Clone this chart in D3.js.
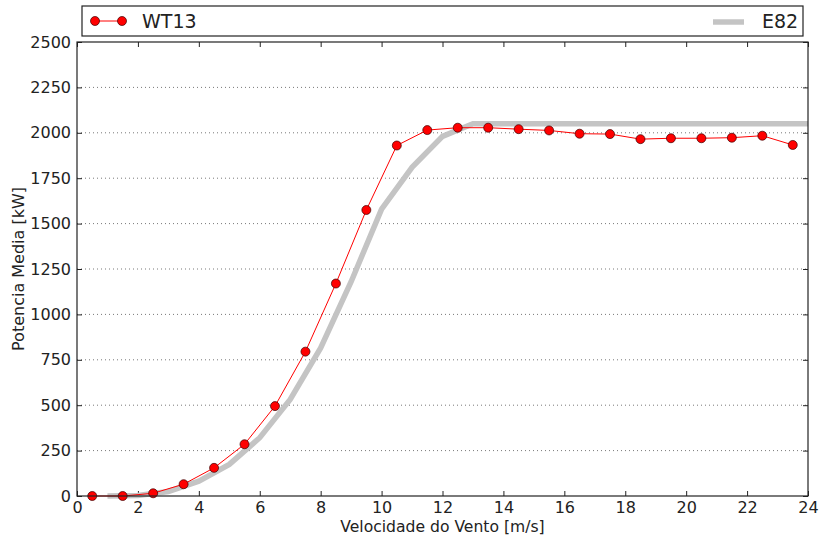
<!DOCTYPE html>
<html>
<head>
<meta charset="utf-8">
<script src="https://cdn.jsdelivr.net/npm/d3@7"></script>
<style>
  body { margin: 0; background: #fff; }
  text { font-family: "DejaVu Sans", sans-serif; fill: #222; }
</style>
</head>
<body>
<svg width="821" height="543"></svg>
<script>
// WT13 measured curve (bin centres)
var wtSpeed = [0.5, 1.5, 2.5, 3.5, 4.5, 5.5, 6.5, 7.5, 8.5, 9.5, 10.5, 11.5,
               12.5, 13.5, 14.5, 15.5, 16.5, 17.5, 18.5, 19.5, 20.5, 21.5, 22.5, 23.5];
var wtPower = [0, 0, 15, 65, 155, 285, 495, 795, 1170, 1575, 1930, 2015,
               2028, 2028, 2020, 2013, 1995, 1993, 1965, 1970, 1970, 1973, 1984, 1933];

// E82 reference curve
var e82Speed = [1, 2, 3, 4, 5, 6, 7, 8, 9, 10, 11, 12, 13, 14, 15, 16, 17, 18, 19, 20, 21, 22, 23, 24];
var e82Power = [0, 3, 25, 82, 174, 321, 532, 815, 1180, 1580, 1810, 1980, 2050,
                2050, 2050, 2050, 2050, 2050, 2050, 2050, 2050, 2050, 2050, 2050];

var xTicks = [0, 2, 4, 6, 8, 10, 12, 14, 16, 18, 20, 22, 24];
var yTicks = [0, 250, 500, 750, 1000, 1250, 1500, 1750, 2000, 2250, 2500];

var svg = d3.select("svg"),
    margin = {left: 77, right: 13, top: 42, bottom: 47},
    width = +svg.attr("width") - margin.left - margin.right,
    height = +svg.attr("height") - margin.top - margin.bottom;

var x = d3.scaleLinear().domain([0, 24]).range([0, width]);
var y = d3.scaleLinear().domain([0, 2500]).range([height, 0]);

var g = svg.append("g").attr("transform", "translate(" + margin.left + "," + margin.top + ")");

// dotted horizontal grid
g.append("g").selectAll("line")
  .data(yTicks.slice(1, -1))
  .enter().append("line")
    .attr("x1", 0).attr("x2", width)
    .attr("y1", function(d) { return y(d); })
    .attr("y2", function(d) { return y(d); })
    .attr("stroke", "#555").attr("stroke-width", 0.8)
    .attr("stroke-dasharray", "1,3");

// axes with inward ticks on all sides
function styleAxis(sel) {
  sel.select(".domain").remove();
  sel.selectAll(".tick line").attr("stroke", "#222");
  sel.selectAll(".tick text").style("font-size", "16px").attr("fill", "#222");
}
g.append("g").attr("transform", "translate(0," + height + ")")
  .call(d3.axisBottom(x).tickValues(xTicks).tickSizeInner(-5).tickPadding(6).tickFormat(d3.format("d")))
  .call(styleAxis);
g.append("g")
  .call(d3.axisLeft(y).tickValues(yTicks).tickSizeInner(-5).tickPadding(6).tickFormat(d3.format("d")))
  .call(styleAxis);
g.append("g")
  .call(d3.axisTop(x).tickValues(xTicks).tickSizeInner(-5).tickFormat(""))
  .call(styleAxis);
g.append("g").attr("transform", "translate(" + width + ",0)")
  .call(d3.axisRight(y).tickValues(yTicks).tickSizeInner(-5).tickFormat(""))
  .call(styleAxis);

var line = d3.line()
  .x(function(d) { return x(d[0]); })
  .y(function(d) { return y(d[1]); });

// E82 thick grey
g.append("path")
  .datum(d3.zip(e82Speed, e82Power))
  .attr("d", line)
  .attr("fill", "none")
  .attr("stroke", "#c4c4c4")
  .attr("stroke-width", 5.5);

// WT13 red with markers
var wt = d3.zip(wtSpeed, wtPower);
g.append("path")
  .datum(wt)
  .attr("d", line)
  .attr("fill", "none")
  .attr("stroke", "#ff0000")
  .attr("stroke-width", 1);

g.append("g").selectAll("circle")
  .data(wt)
  .enter().append("circle")
    .attr("cx", function(d) { return x(d[0]); })
    .attr("cy", function(d) { return y(d[1]); })
    .attr("r", 4.5)
    .attr("fill", "#ff0000")
    .attr("stroke", "#3a0000")
    .attr("stroke-width", 0.7);

// frame
g.append("rect")
  .attr("width", width).attr("height", height)
  .attr("fill", "none").attr("stroke", "#222").attr("stroke-width", 1.2);

// axis labels
svg.append("text")
  .attr("x", margin.left + width / 2).attr("y", 532)
  .attr("text-anchor", "middle").style("font-size", "15.6px")
  .text("Velocidade do Vento [m/s]");
svg.append("text")
  .attr("transform", "translate(24," + (margin.top + height / 2) + ") rotate(-90)")
  .attr("text-anchor", "middle").style("font-size", "16px")
  .text("Potencia Media [kW]");

// legend box
var leg = svg.append("g");
leg.append("rect")
  .attr("x", 82).attr("y", 6).attr("width", 721).attr("height", 30)
  .attr("fill", "#fff").attr("stroke", "#222").attr("stroke-width", 1.2);
leg.append("line")
  .attr("x1", 95).attr("x2", 122).attr("y1", 21).attr("y2", 21)
  .attr("stroke", "#ff0000").attr("stroke-width", 1);
leg.selectAll("circle.lm")
  .data([95, 122])
  .enter().append("circle")
    .attr("class", "lm")
    .attr("cx", function(d) { return d; }).attr("cy", 21).attr("r", 4.5)
    .attr("fill", "#ff0000").attr("stroke", "#3a0000").attr("stroke-width", 0.7);
leg.append("text")
  .attr("x", 142).attr("y", 28).style("font-size", "19px").text("WT13");
leg.append("line")
  .attr("x1", 713).attr("x2", 744).attr("y1", 22).attr("y2", 22)
  .attr("stroke", "#c4c4c4").attr("stroke-width", 5.5);
leg.append("text")
  .attr("x", 762).attr("y", 28).style("font-size", "19px").text("E82");
</script>
</body>
</html>
